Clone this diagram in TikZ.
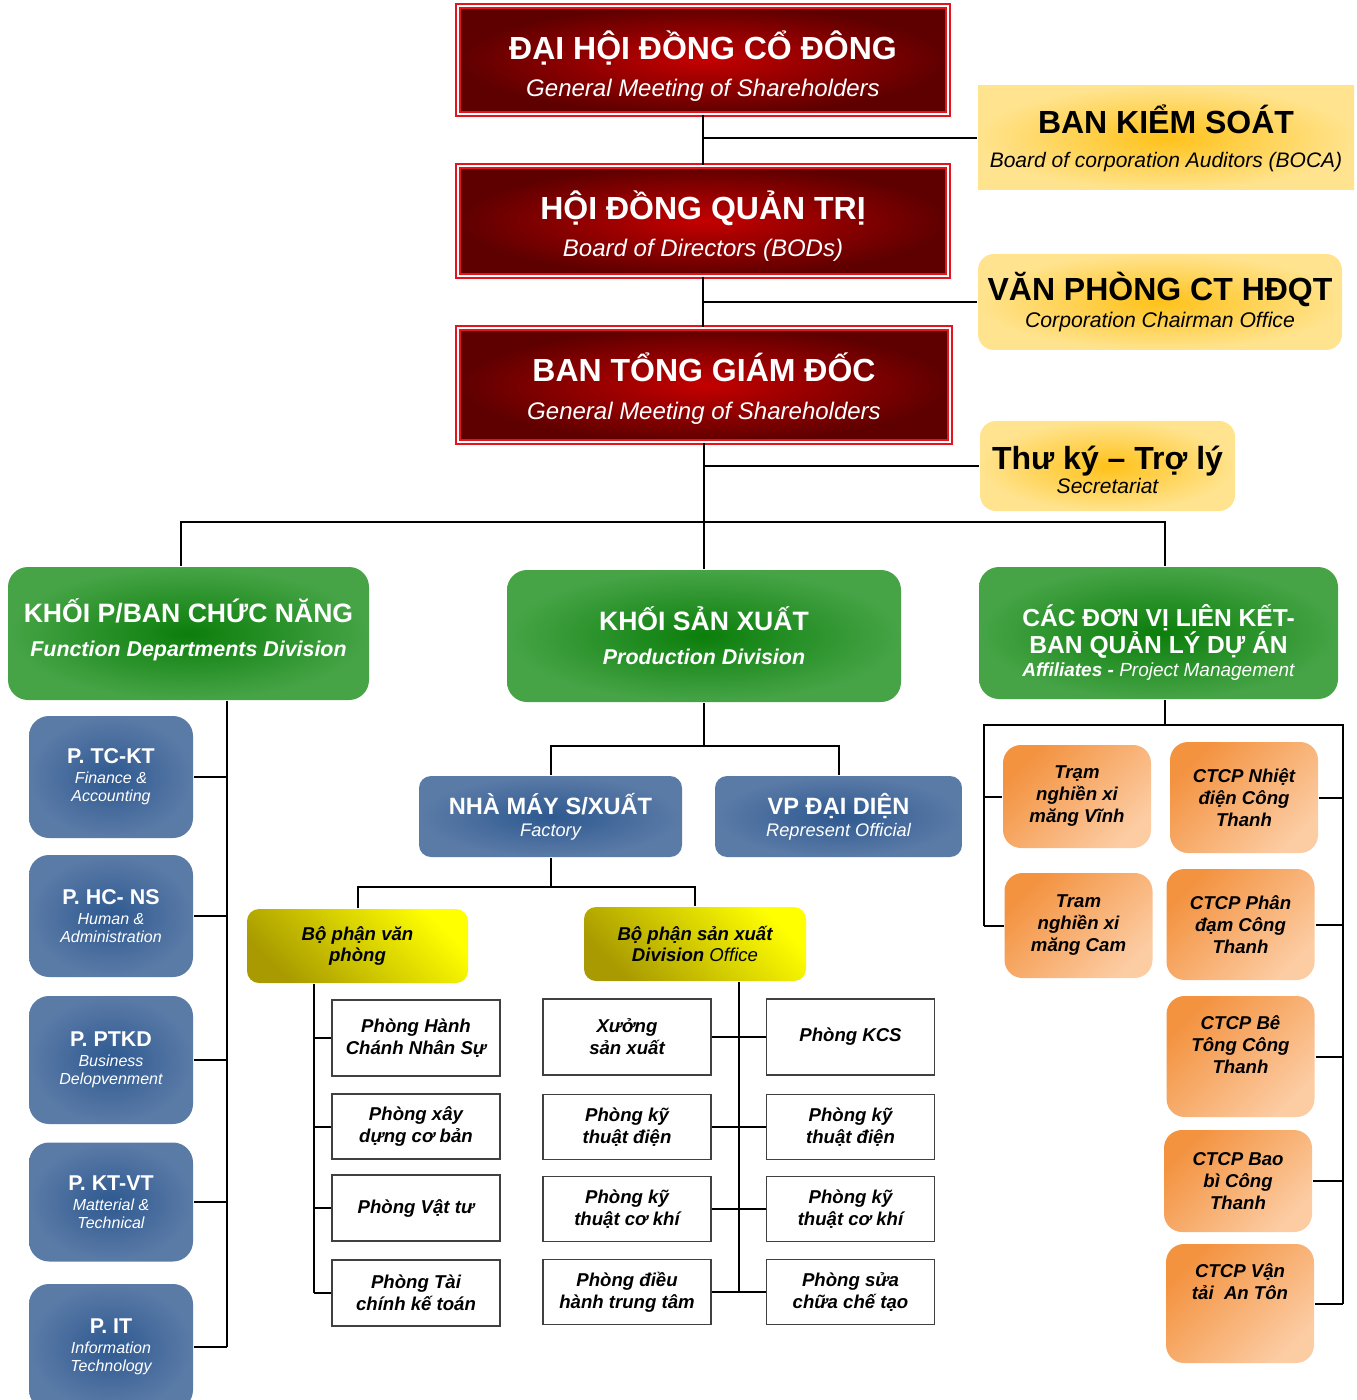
\documentclass[tikz,border=0pt]{standalone}
\usepackage{fontspec}
\setmainfont{Liberation Sans}
\usetikzlibrary{positioning}

\definecolor{boardline}{HTML}{E3141B}
\definecolor{boardglow}{HTML}{C40000}
\definecolor{boarddark}{HTML}{5E0000}
\definecolor{officefill}{HTML}{FFE38E}
\definecolor{officeglow}{HTML}{FFC21A}
\definecolor{greenfill}{HTML}{46A446}
\definecolor{greenglow}{HTML}{0B7E0B}
\definecolor{bluefill}{HTML}{5B7BA7}
\definecolor{blueglow}{HTML}{2E5990}
\definecolor{olivetop}{HTML}{FFFF00}
\definecolor{olivebottom}{HTML}{A89A00}
\definecolor{orangetop}{HTML}{F3923F}
\definecolor{orangebottom}{HTML}{FCCCA3}

\newcommand{\fsz}[2]{\fontsize{#1}{#2}\selectfont}
% struts that fix the height of a first line and the depth of a last line
\newcommand{\topstrut}[1]{\rule{0pt}{#1}}
\newcommand{\botstrut}[1]{\rule[-#1]{0pt}{#1}}

\begin{document}
\begin{tikzpicture}[x=0.5pt,y=-0.5pt,line width=1pt]
    \tikzstyle{box}=[rectangle,align=center,inner sep=2pt]
    \tikzstyle{board}=[box,draw=boardline,double=white,double distance=1.2pt,line width=0.9pt,inner color=boardglow,outer color=boarddark,text=white,minimum width=245pt,font=\fsz{12}{18.5}\itshape]
    \tikzstyle{office}=[box,inner color=officeglow,outer color=officefill,font=\fsz{10.5}{17}\itshape]
    \tikzstyle{division}=[box,rounded corners=10pt,inner color=greenglow,outer color=greenfill,text=white]
    \tikzstyle{dept}=[box,rounded corners=10pt,inner color=blueglow,outer color=bluefill,text=white]
    \tikzstyle{section}=[box,rounded corners=6pt,top color=olivetop,bottom color=olivebottom,shading angle=-45,font=\fsz{9.3}{10.8}\bfseries\itshape]
    \tikzstyle{room}=[box,draw=black!75,line width=0.6pt,fill=white,minimum width=84pt,font=\fsz{9.3}{11}\bfseries\itshape]
    \tikzstyle{affiliate}=[box,rounded corners=9pt,top color=orangetop,bottom color=orangebottom,shading angle=45,minimum width=74pt,font=\fsz{9.3}{11}\bfseries\itshape]

    \useasboundingbox (0,0) rectangle (1356,1400);

    % Draw the governing boards
    \node[board,minimum height=54pt] (DH) at (703,60)
        {{\fsz{16}{18.5}\bfseries\upshape\topstrut{22.5pt}ĐẠI HỘI ĐỒNG CỔ ĐÔNG}\\General Meeting of Shareholders\botstrut{4pt}};
    \node[board,minimum height=55pt] (HD) at (703,221)
        {{\fsz{16}{18.5}\bfseries\upshape\topstrut{21.5pt}HỘI ĐỒNG QUẢN TRỊ}\\Board of Directors (BODs)\botstrut{4pt}};
    \node[board,minimum width=246pt,minimum height=57pt,font=\fsz{12}{19}\itshape] (TGD) at (704,385)
        {{\fsz{16}{19}\bfseries\upshape\topstrut{20pt}BAN TỔNG GIÁM ĐỐC}\\General Meeting of Shareholders\botstrut{4pt}};

    % Draw the offices on the right
    \node[office,minimum width=188pt,minimum height=52pt] (BKS) at (1166,138)
        {{\fsz{16}{17}\bfseries\upshape BAN KIỂM SOÁT}\\Board of corporation Auditors (BOCA)};
    \node[office,rounded corners=8pt,minimum width=182pt,minimum height=48pt,font=\fsz{10.6}{13.5}\itshape] (VPCT) at (1160,302)
        {{\fsz{16}{13.5}\bfseries\upshape VĂN PHÒNG CT HĐQT}\\Corporation Chairman Office};
    \node[office,rounded corners=8pt,minimum width=127.5pt,minimum height=45pt,font=\fsz{10.5}{12}\itshape] (TK) at (1107.5,466)
        {{\fsz{16}{12}\bfseries\upshape\topstrut{20pt}Thư ký – Trợ lý}\\Secretariat\botstrut{4pt}};

    % Draw the three divisions
    \node[division,minimum width=180.5pt,minimum height=66.5pt,font=\fsz{10.7}{17}\bfseries\itshape] (KP) at (188.5,633.5)
        {{\fsz{13.3}{17}\upshape\topstrut{15pt}KHỐI P/BAN CHỨC NĂNG}\\Function Departments Division\botstrut{9.5pt}};
    \node[division,minimum width=197pt,minimum height=66pt,font=\fsz{10.7}{17}\bfseries\itshape] (KSX) at (704,636)
        {{\fsz{13.3}{17}\upshape KHỐI SẢN XUẤT}\\Production Division};
    \node[division,minimum width=179.5pt,minimum height=66pt,font=\fsz{9.5}{13.5}\itshape] (CDV) at (1158.5,633)
        {{\fsz{12.3}{13.5}\bfseries\upshape\topstrut{22pt}CÁC ĐƠN VỊ LIÊN KẾT-}\\{\fsz{12.3}{13.5}\bfseries\upshape BAN QUẢN LÝ DỰ ÁN}\\[-2pt]{\bfseries Affiliates -} Project Management\botstrut{4pt}};

    % Draw the function departments
    \foreach \name/\y/\h/\ttl/\sub in {1/777/61/{P. TC-KT}/{Finance \&\\Accounting},
                                       2/916/61/{P. HC- NS}/{Human \&\\Administration},
                                       3/1060/64/{P. PTKD}/{Business\\Delopvenment},
                                       4/1202/59.5/{P. KT-VT}/{Matterial \&\\Technical},
                                       5/1347/63/{P. IT}/{Information\\Technology}}
        \node[dept,minimum width=82pt,minimum height=\h pt,font=\fsz{8}{9}\itshape] (P-\name) at (111,\y)
            {{\fsz{10.7}{9}\bfseries\upshape \ttl}\\[1pt]\sub};

    % Draw the factory and the representative office
    \node[dept,rounded corners=6pt,minimum width=131.5pt,minimum height=40.5pt,font=\fsz{9.1}{11}\itshape] (NM) at (550.5,816.5)
        {{\fsz{11.8}{11}\bfseries\upshape NHÀ MÁY S/XUẤT}\\Factory};
    \node[dept,rounded corners=6pt,minimum width=123.5pt,minimum height=40.5pt,font=\fsz{9.1}{11}\itshape] (VPD) at (838.5,816.5)
        {{\fsz{11.8}{11}\bfseries\upshape VP ĐẠI DIỆN}\\Represent Official};

    % Draw the two sections of the factory
    \node[section,minimum width=110.5pt,minimum height=37pt] (BPVP) at (357.5,946) {Bộ phận văn\\phòng};
    \node[section,minimum width=111pt,minimum height=37pt] (BPSX) at (695,944) {Bộ phận sản xuất\\Division {\mdseries Office}};

    % Draw the office rooms
    \foreach \name/\y/\h/\txt in {1/1038/38/{Phòng Hành\\Chánh Nhân Sự},
                                  2/1126.5/32.5/{Phòng xây\\dựng cơ bản},
                                  3/1208/33/{Phòng Vật tư},
                                  4/1293/33/{Phòng Tài\\chính kế toán}}
        \node[room,minimum height=\h pt] (VP-\name) at (416,\y) {\txt};

    % Draw the production rooms, two per row
    \foreach \name/\y/\h/\lft/\rgt in {1/1037/38/{Xưởng\\sản xuất}/{Phòng KCS},
                                       2/1127/32.5/{Phòng kỹ\\thuật điện}/{Phòng kỹ\\thuật điện},
                                       3/1209/32.5/{Phòng kỹ\\thuật cơ khí}/{Phòng kỹ\\thuật cơ khí},
                                       4/1292/32.5/{Phòng điều\\hành trung tâm}/{Phòng sửa\\chữa chế tạo}}
    {
        \node[room,minimum height=\h pt] (SX-L\name) at (627,\y) {\lft};
        \node[room,minimum height=\h pt] (SX-R\name) at (850.5,\y) {\rgt};
    }

    % Draw the affiliates
    \node[affiliate,minimum height=51.5pt] (LK-1) at (1077,796.5) {Trạm\\nghiền xi\\măng Vĩnh};
    \node[affiliate,minimum height=52.5pt] (LK-2) at (1078.5,925.5) {Tram\\nghiền xi\\măng Cam};
    \node[affiliate,minimum height=55.5pt] (LK-3) at (1244,797.5) {CTCP Nhiệt\\điện Công\\Thanh};
    \node[affiliate,minimum height=55.5pt] (LK-4) at (1240.5,924.5) {CTCP Phân\\đạm Công\\Thanh};
    \node[affiliate,minimum height=60.5pt] (LK-5) at (1240.5,1056.5) {CTCP Bê\\Tông Công\\Thanh\botstrut{11.5pt}};
    \node[affiliate,minimum height=51pt] (LK-6) at (1238,1181) {CTCP Bao\\bì Công\\Thanh};
    \node[affiliate,minimum height=59.5pt] (LK-7) at (1240,1303.5) {CTCP Vận\\tải\ \ An Tôn\botstrut{21.5pt}};

    % Connect the boards and their offices
    \draw (DH.south) -- (DH.south |- HD.north);
    \draw (DH.south |- BKS.west) -- (BKS.west);
    \draw (HD.south) -- (HD.south |- TGD.north);
    \draw (HD.south |- VPCT.west) -- (VPCT.west);
    \draw (TGD.south |- TK.west) -- (TK.west);

    % Connect the board of directors with the divisions
    \coordinate (bus) at (704,522);
    \draw (TGD.south) -- (bus);
    \draw ([xshift=-4pt]KP.north) |- (bus) -| ([xshift=3pt]CDV.north);
    \draw (bus) -- (KSX.north);

    % Connect the function departments
    \coordinate (kp-bus) at ([xshift=19pt]KP.south);
    \draw (kp-bus) -- (kp-bus |- P-5.east);
    \foreach \name in {1,...,5}
        \draw (P-\name.east) -- (kp-bus |- P-\name.east);

    % Connect the production division
    \coordinate (sx-bus) at ([yshift=-21.5pt]KSX.south);
    \draw (KSX.south) -- (sx-bus);
    \draw (NM.north) |- (sx-bus) -| (VPD.north);
    \coordinate (nm-bus) at ([yshift=-14.5pt]NM.south);
    \draw (NM.south) -- (nm-bus);
    \draw (BPVP.north) |- (nm-bus) -| (BPSX.north);

    % Connect the rooms with their sections
    \coordinate (vp-bus) at ([xshift=-21.75pt]BPVP.south);
    \draw (vp-bus) -- (vp-bus |- VP-4.west);
    \foreach \name in {1,...,4}
        \draw (VP-\name.west) -- (vp-bus |- VP-\name.west);
    \coordinate (sx-room-bus) at ([xshift=22pt]BPSX.south);
    \draw (sx-room-bus) -- (sx-room-bus |- SX-L4.east);
    \foreach \name in {1,...,4}
        \draw (SX-L\name.east) -- (SX-R\name.west);

    % Connect the affiliates
    \coordinate (lk-top) at ([xshift=3pt,yshift=-13pt]CDV.south);
    \coordinate (lk-left) at (984,725);
    \coordinate (lk-right) at (1343,725);
    \draw ([xshift=3pt]CDV.south) -- (lk-top);
    \draw (lk-left |- LK-2.west) -- (lk-left) -- (lk-right) -- (lk-right |- LK-7.east);
    \foreach \name in {1,2}
        \draw (LK-\name.west) -- (lk-left |- LK-\name.west);
    \foreach \name in {3,...,7}
        \draw (LK-\name.east) -- (lk-right |- LK-\name.east);
\end{tikzpicture}
\end{document}
